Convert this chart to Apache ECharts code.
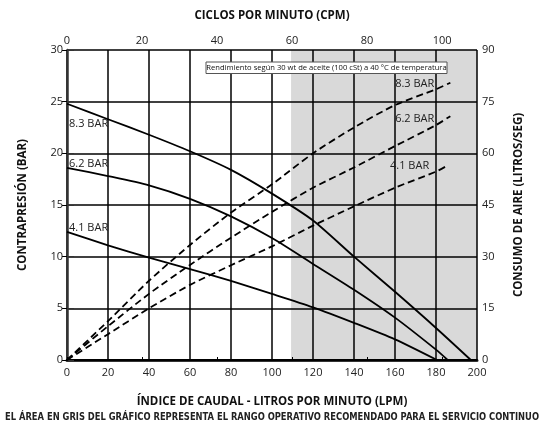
<!DOCTYPE html>
<html>
<head>
<meta charset="utf-8">
<script src="https://cdn.jsdelivr.net/npm/echarts@6/dist/echarts.min.js"></script>
<style>
  html, body { margin: 0; padding: 0; background: #fff; }
  #chart { width: 544px; height: 425px; }
</style>
</head>
<body>
<div id="chart"></div>
<script>
// caudal (LPM) en el eje inferior
const lpm83 = [0, 20, 40, 60, 80, 100, 120, 140, 160, 180, 197]
const bar83 = [24.8, 23.3, 21.8, 20.2, 18.4, 16.1, 13.5, 10.0, 6.6, 3.1, 0]
const lpm62 = [0, 20, 40, 60, 80, 100, 120, 140, 160, 180, 185.7]
const bar62 = [18.6, 17.8, 16.9, 15.6, 13.9, 11.8, 9.3, 6.8, 4.1, 1.0, 0]
const lpm41 = [0, 20, 40, 60, 80, 100, 120, 140, 160, 180.5]
const bar41 = [12.4, 11.1, 9.9, 8.8, 7.65, 6.4, 5.1, 3.6, 2.0, 0]

// consumo de aire (litros/seg), eje derecho
const airLpm83 = [0, 20, 40, 60, 80, 100, 120, 140, 160, 180, 187]
const air83 = [0, 11.3, 23.0, 33.4, 42.8, 51.0, 60.0, 67.5, 74.0, 78.6, 80.5]
const airLpm62 = [0, 20, 40, 60, 80, 100, 120, 140, 160, 180, 187]
const air62 = [0, 9.8, 19.2, 27.6, 35.5, 43.0, 50.0, 55.9, 62.1, 68.2, 70.8]
const airLpm41 = [0, 20, 40, 60, 80, 100, 120, 140, 160, 180, 184.5]
const air41 = [0, 7.5, 15.0, 21.8, 27.5, 33.0, 39.0, 44.6, 50.0, 54.7, 56.1]

const pressureNames = ['8.3 BAR', '6.2 BAR', '4.1 BAR']
const grayStart = 109.3   // LPM, = 60 CPM
const lpmMax = 200
const lpmPerCycle = 1.83
const cpmMax = lpmMax / lpmPerCycle

const font = '"Open Sans", "Noto Sans", sans-serif'
const txt = '#222'

const noteText = 'Rendimiento según 30 wt de aceite (100 cSt) a 40 °C de temperatura'
const footText = 'EL ÁREA EN GRIS DEL GRÁFICO REPRESENTA EL RANGO OPERATIVO RECOMENDADO PARA EL SERVICIO CONTINUO'
const footFont = 'bold 10px "DejaVu Sans Condensed", "Liberation Sans", sans-serif'
// ancho medido para comprimir el pie a ~534px
const ctx = document.createElement('canvas').getContext('2d')
ctx.font = footFont
const footScale = 534 / ctx.measureText(footText).width

function pairs(xs, ys) {
  return xs.map((x, i) => [x, ys[i]])
}

// etiqueta en el primer punto (curvas de presión)
function solidSeries(name, xs, ys, offY) {
  const data = pairs(xs, ys)
  data[0] = {
    value: data[0],
    label: {
      show: true, formatter: name, position: 'right', distance: 2,
      offset: [0, offY], color: txt, fontSize: 11, fontFamily: font
    }
  }
  return {
    name: name, type: 'line', xAxisIndex: 0, yAxisIndex: 0, z: 4,
    smooth: 0.25, symbol: 'circle', symbolSize: 0, showSymbol: true,
    lineStyle: { color: '#000', width: 1.8 },
    data: data
  }
}

// etiqueta en el último punto (curvas de aire)
function dashedSeries(name, xs, ys, offY) {
  const data = pairs(xs, ys)
  const last = data.length - 1
  data[last] = {
    value: data[last],
    label: {
      show: true, formatter: name, position: 'left', distance: 16,
      offset: [0, offY], color: txt, fontSize: 11, fontFamily: font
    }
  }
  return {
    name: name + ' aire', type: 'line', xAxisIndex: 0, yAxisIndex: 1, z: 4,
    smooth: 0.25, symbol: 'circle', symbolSize: 0, showSymbol: true,
    lineStyle: { color: '#000', width: 1.8, type: [7, 4] },
    data: data
  }
}

const chart = echarts.init(document.getElementById('chart'), null, { renderer: 'canvas' })

const option = {
  animation: false,
  backgroundColor: '#fff',
  grid: { left: 67, right: 67, top: 50, bottom: 65 },
  xAxis: [{
    type: 'value', position: 'bottom', min: 0, max: lpmMax, interval: 20, z: 3,
    name: 'ÍNDICE DE CAUDAL - LITROS POR MINUTO (LPM)',
    nameLocation: 'middle', nameGap: 36,
    nameTextStyle: { color: '#111', fontWeight: 'bold', fontSize: 11.5, fontFamily: font },
    axisLine: { show: true, lineStyle: { color: '#333', width: 3 } },
    axisTick: { show: false },
    axisLabel: { color: txt, fontSize: 11, fontFamily: font, margin: 7 },
    splitLine: { show: true, lineStyle: { color: '#000', width: 1.5 } }
  }, {
    type: 'value', position: 'top', min: 0, max: cpmMax, interval: 20, z: 3,
    name: 'CICLOS POR MINUTO (CPM)',
    nameLocation: 'middle', nameGap: 28,
    nameTextStyle: { color: '#111', fontWeight: 'bold', fontSize: 11.5, fontFamily: font },
    axisLine: { show: true, lineStyle: { color: '#000', width: 2 } },
    axisTick: { show: true, length: 3, lineStyle: { color: '#000' } },
    axisLabel: { color: txt, fontSize: 11, fontFamily: font, margin: 4, showMaxLabel: false },
    splitLine: { show: false }
  }],
  yAxis: [{
    type: 'value', position: 'left', min: 0, max: 30, interval: 5, z: 3,
    name: 'CONTRAPRESIÓN (BAR)',
    nameLocation: 'middle', nameGap: 38,
    nameTextStyle: { color: '#111', fontWeight: 'bold', fontSize: 11.5, fontFamily: font },
    axisLine: { show: true, lineStyle: { color: '#333', width: 2.5 } },
    axisTick: { show: true, length: 5, lineStyle: { color: '#000' } },
    axisLabel: { color: txt, fontSize: 11, fontFamily: font, margin: 4 },
    splitLine: { show: true, lineStyle: { color: '#000', width: 1.5 } }
  }, {
    type: 'value', position: 'right', min: 0, max: 90, interval: 15, z: 3,
    name: 'CONSUMO DE AIRE (LITROS/SEG)',
    nameLocation: 'middle', nameGap: 36,
    nameTextStyle: { color: '#111', fontWeight: 'bold', fontSize: 11.5, fontFamily: font },
    axisLine: { show: true, lineStyle: { color: '#333', width: 1 } },
    axisTick: { show: true, length: 7, lineStyle: { color: '#333' } },
    axisLabel: { color: txt, fontSize: 11, fontFamily: font, margin: 5 },
    splitLine: { show: false }
  }],
  graphic: [{
    type: 'rect', z: 10, zlevel: 1,
    shape: { x: 206, y: 62, width: 241, height: 11.5 },
    style: { fill: '#fff', stroke: '#555', lineWidth: 1 }
  }, {
    type: 'text', z: 11, zlevel: 1, x: 326.5, y: 68,
    style: {
      text: noteText,
      fill: '#111', fontSize: 7.6, fontFamily: font, align: 'center', verticalAlign: 'middle'
    }
  }, {
    type: 'text', z: 10, x: 272, y: 417, scaleX: footScale,
    style: {
      text: footText,
      fill: '#222', font: footFont, align: 'center', verticalAlign: 'middle'
    }
  }],
  series: [
    {
      name: 'rango', type: 'line', xAxisIndex: 0, yAxisIndex: 0, z: 1,
      data: [], symbol: 'none',
      markArea: {
        silent: true,
        itemStyle: { color: '#d9d9d9' },
        data: [[{ xAxis: grayStart }, { xAxis: lpmMax }]]
      }
    },
    solidSeries(pressureNames[0], lpm83, bar83, 20),
    solidSeries(pressureNames[1], lpm62, bar62, -4),
    solidSeries(pressureNames[2], lpm41, bar41, -4),
    dashedSeries(pressureNames[0], airLpm83, air83, 1),
    dashedSeries(pressureNames[1], airLpm62, air62, 3),
    dashedSeries(pressureNames[2], airLpm41, air41, -1)
  ]
}

chart.setOption(option)
</script>
</body>
</html>
